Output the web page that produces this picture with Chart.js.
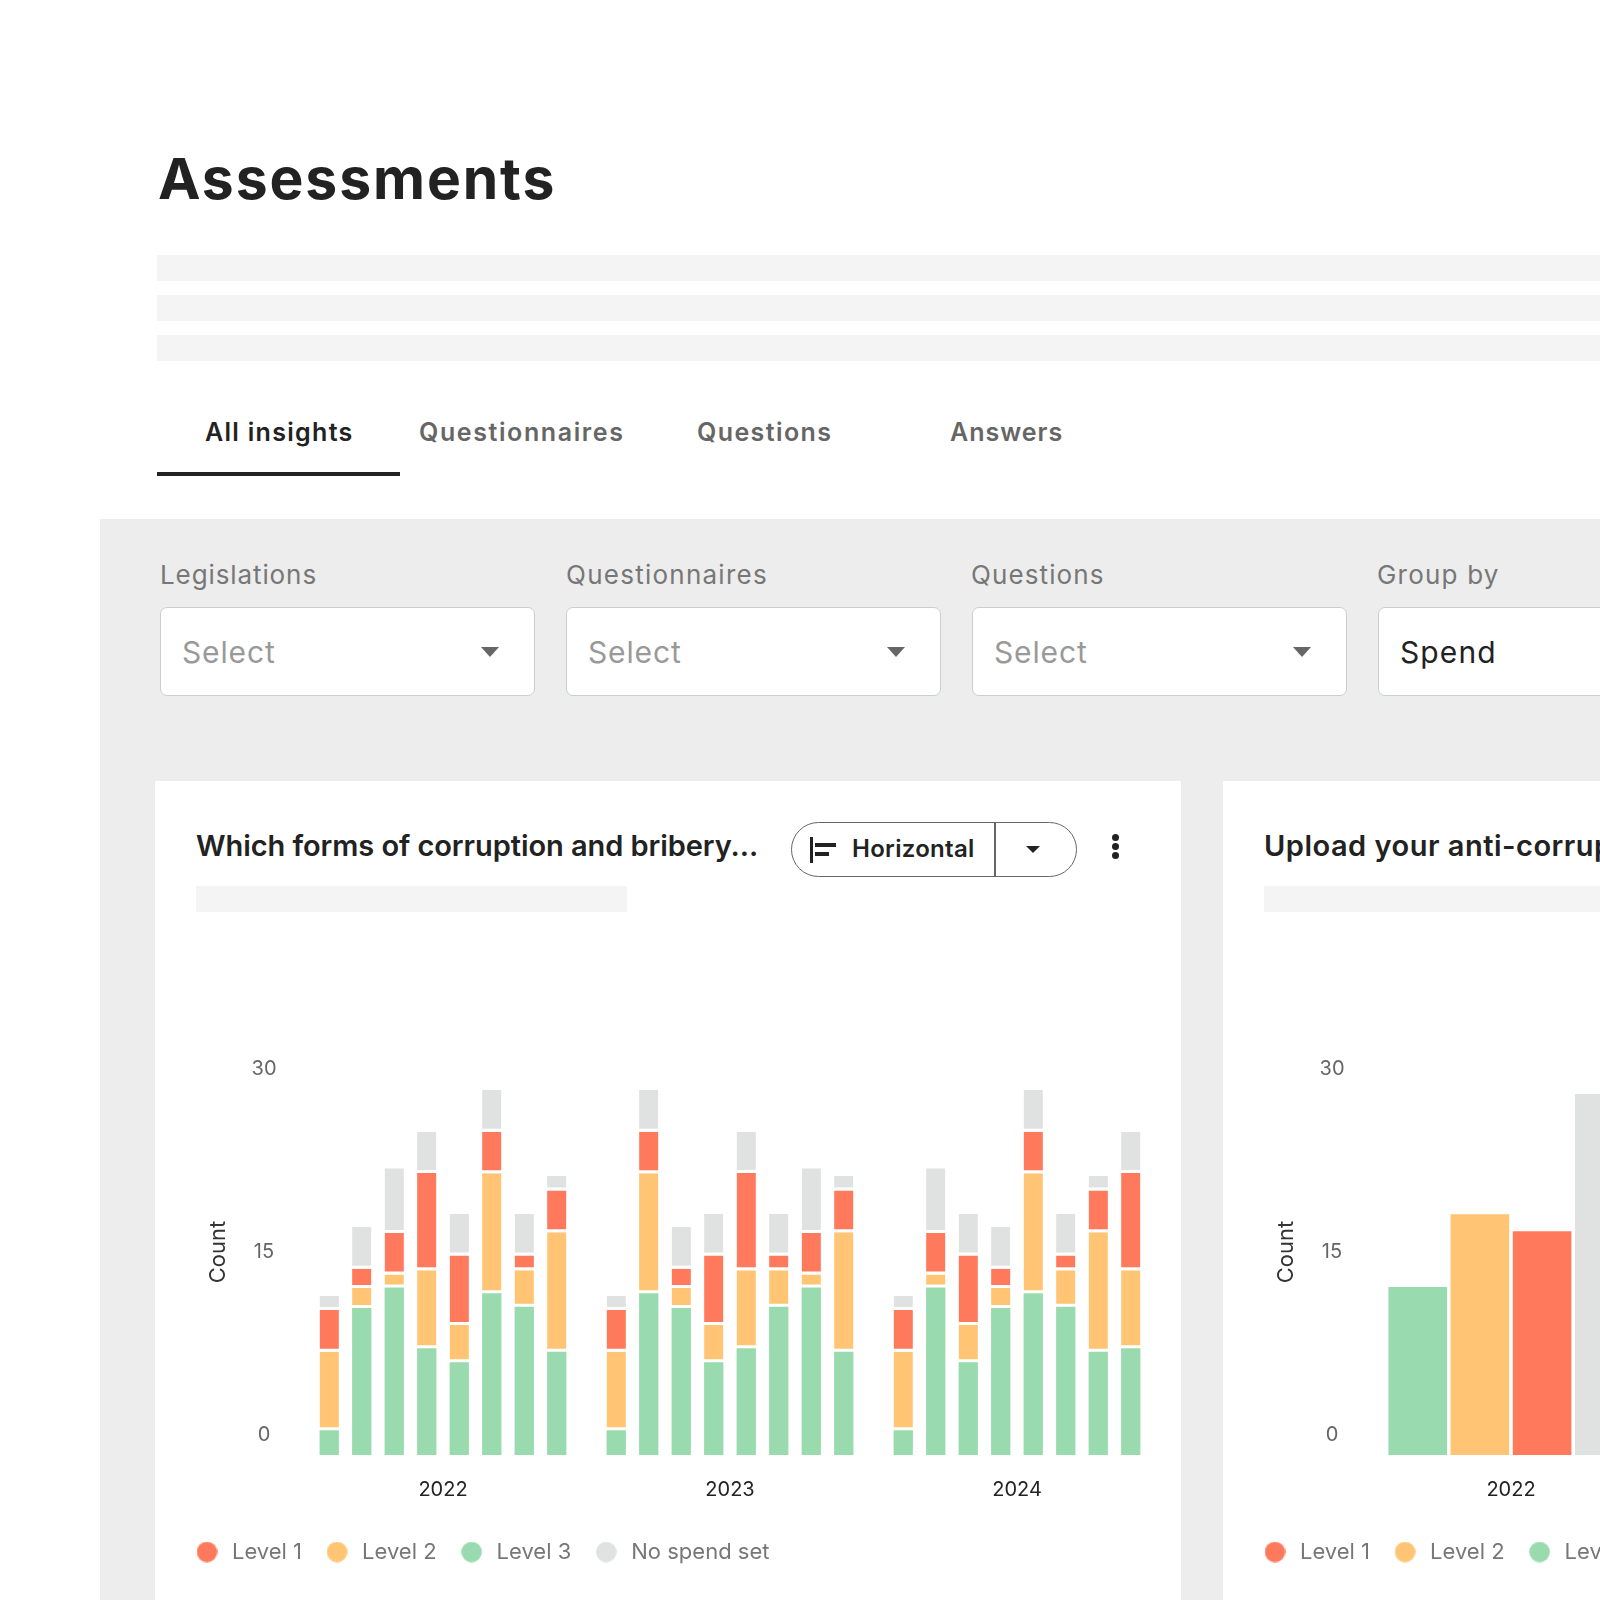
<!DOCTYPE html>
<html><head><meta charset="utf-8">
<script src="https://cdn.jsdelivr.net/npm/chart.js@4"></script>
<style>
html,body{margin:0;padding:0;width:1600px;height:1600px;overflow:hidden;background:#fff;font-family:Inter,sans-serif}
#page{position:absolute;left:0;top:0;width:1600px;height:1600px;overflow:hidden}
.b{position:absolute}
.t{position:absolute;white-space:nowrap;line-height:1}
.ph{position:absolute;background:#f4f4f4}
.tab{font-size:25px;font-weight:600;color:#666;top:420px}
.lab{font-size:26px;color:#777;top:562px}
.sel{position:absolute;top:607px;height:89px;background:#fff;border:1.5px solid #c8d0ce;border-radius:7px;box-sizing:border-box}
.st{font-size:30px;color:#999;top:637px;letter-spacing:.85px}
.tri{position:absolute;width:0;height:0;border-left:9.5px solid transparent;border-right:9.5px solid transparent;border-top:10px solid #666}
canvas{position:absolute;display:block}
</style></head><body><div id="page">
<div class="t" style="left:158px;top:150px;font-size:57px;font-weight:700;color:#222;letter-spacing:1.9px">Assessments</div>
<div class="ph" style="left:157px;top:255px;width:1443px;height:26px"></div>
<div class="ph" style="left:157px;top:295px;width:1443px;height:26px"></div>
<div class="ph" style="left:157px;top:335px;width:1443px;height:26px"></div>
<div class="t tab" style="left:205px;color:#222;letter-spacing:1.3px">All insights</div>
<div class="t tab" style="left:419px;letter-spacing:1.6px">Questionnaires</div>
<div class="t tab" style="left:697px;letter-spacing:1.4px">Questions</div>
<div class="t tab" style="left:950px;letter-spacing:1px">Answers</div>
<div class="b" style="left:157px;top:472px;width:243px;height:4px;background:#222"></div>
<div class="b" style="left:100px;top:519px;width:1500px;height:1081px;background:#ededed"></div>
<div class="t lab" style="left:160px;letter-spacing:.9px">Legislations</div>
<div class="t lab" style="left:566px;letter-spacing:1.25px">Questionnaires</div>
<div class="t lab" style="left:971px;letter-spacing:1.1px">Questions</div>
<div class="t lab" style="left:1377px;letter-spacing:1.2px">Group by</div>
<div class="sel" style="left:160px;width:375px"></div>
<div class="sel" style="left:566px;width:375px"></div>
<div class="sel" style="left:972px;width:375px"></div>
<div class="sel" style="left:1378px;width:300px"></div>
<div class="t st" style="left:182px">Select</div>
<div class="t st" style="left:588px">Select</div>
<div class="t st" style="left:994px">Select</div>
<div class="t st" style="left:1400px;color:#222;letter-spacing:1.1px">Spend</div>
<div class="tri" style="left:481px;top:647px"></div>
<div class="tri" style="left:887px;top:647px"></div>
<div class="tri" style="left:1293px;top:647px"></div>

<div class="b" style="left:155px;top:781px;width:1026px;height:819px;background:#fff"></div>
<div class="b" style="left:1223px;top:781px;width:400px;height:819px;background:#fff"></div>
<div class="t" style="left:196px;top:831px;font-size:29px;font-weight:600;color:#222;letter-spacing:-.07px">Which forms of corruption and bribery...</div>
<div class="b" style="left:791px;top:822px;width:286px;height:55px;border:1.5px solid #666;border-radius:28px;box-sizing:border-box"></div>
<div class="b" style="left:994px;top:822px;width:1.5px;height:55px;background:#666"></div>
<div class="b" style="left:810px;top:837px;width:2.5px;height:26px;background:#222"></div>
<div class="b" style="left:815px;top:843px;width:21px;height:4px;background:#222"></div>
<div class="b" style="left:815px;top:852px;width:14px;height:4px;background:#222"></div>
<div class="t" style="left:852px;top:837px;font-size:24px;font-weight:600;color:#222;letter-spacing:.3px">Horizontal</div>
<div class="tri" style="left:1026px;top:846px;border-left-width:7px;border-right-width:7px;border-top-width:7px;border-top-color:#222"></div>
<div class="b" style="left:1112px;top:834px;width:7px;height:7px;border-radius:50%;background:#222"></div>
<div class="b" style="left:1112px;top:843px;width:7px;height:7px;border-radius:50%;background:#222"></div>
<div class="b" style="left:1112px;top:851.5px;width:7px;height:7px;border-radius:50%;background:#222"></div>
<div class="ph" style="left:196px;top:886px;width:431px;height:26px"></div>
<div class="t" style="left:1264px;top:831px;font-size:29px;font-weight:600;color:#222;letter-spacing:.5px">Upload your anti-corruption policy</div>
<div class="ph" style="left:1264px;top:886px;width:336px;height:26px"></div>
<canvas id="c1"></canvas>
<canvas id="c2"></canvas>
</div>
<script>
const years = ['2022', '2023', '2024'];
const yTickValues = [0, 15, 30];
const levelNames = ['Level 1', 'Level 2', 'Level 3', 'No spend set'];
const levelColors = ['#ff795c', '#ffc574', '#99dbae', '#e0e2e1'];

// Chart 1: eight stacked bars per year (fill-top readings converted to segment counts)
const level3_2022 = [2.02, 12.06, 13.73, 8.75, 7.61, 13.26, 12.15, 8.46];
const level2_2022 = [6.44, 1.64, 1.08, 6.41, 3.05, 9.84, 3.01, 9.81];
const level1_2022 = [3.43, 1.58, 3.40, 7.97, 5.70, 3.42, 1.20, 3.42];
const noSpend_2022 = [1.17, 3.43, 5.30, 3.39, 3.43, 3.43, 3.43, 1.20];

const level3_2023 = [2.02, 13.26, 12.06, 7.61, 8.75, 12.15, 13.73, 8.46];
const level2_2023 = [6.44, 9.84, 1.64, 3.05, 6.41, 3.01, 1.08, 9.81];
const level1_2023 = [3.43, 3.42, 1.58, 5.70, 7.97, 1.20, 3.40, 3.42];
const noSpend_2023 = [1.17, 3.43, 3.43, 3.43, 3.39, 3.43, 5.30, 1.20];

const level3_2024 = [2.02, 13.73, 7.61, 12.06, 13.26, 12.15, 8.46, 8.75];
const level2_2024 = [6.44, 1.08, 3.05, 1.64, 9.84, 3.01, 9.81, 6.41];
const level1_2024 = [3.43, 3.40, 5.70, 1.58, 3.42, 1.20, 3.42, 7.97];
const noSpend_2024 = [1.17, 5.30, 3.43, 3.43, 3.43, 3.43, 1.20, 3.39];

// Chart 2: only the 2022 group is visible in the picture
const chart2Level3 = [13.77, null, null];
const chart2Level2 = [19.75, null, null];
const chart2Level1 = [18.36, null, null];
const chart2NoSpend = [29.6, null, null];

const byLevel = [
  [level1_2022, level1_2023, level1_2024],
  [level2_2022, level2_2023, level2_2024],
  [level3_2022, level3_2023, level3_2024],
  [noSpend_2022, noSpend_2023, noSpend_2024]
];
const stackOrder = [2, 1, 0, 3];
const FONT = 'Inter, sans-serif';

function dot(color) {
  const c = document.createElement('canvas');
  c.width = 21; c.height = 21;
  const x = c.getContext('2d');
  x.fillStyle = color; x.beginPath(); x.arc(10.5, 10.5, 10.3, 0, Math.PI * 2); x.fill();
  return c;
}
const dots = levelColors.map(dot);

function options(stacked, catPct, barPct) {
  return {
    responsive: false, animation: false, devicePixelRatio: 1,
    layout: { padding: { left: 17, right: 20.5, top: 8, bottom: 27 } },
    datasets: { bar: { categoryPercentage: catPct, barPercentage: barPct } },
    plugins: {
      title: { display: false }, tooltip: { enabled: false },
      legend: {
        position: 'bottom', align: 'start',
        labels: {
          usePointStyle: true, pointStyleWidth: 28, boxHeight: 20, padding: 21,
          color: '#777', font: { family: FONT, size: 22 },
          generateLabels: () => levelNames.map((n, i) => ({
            text: n, pointStyle: dots[i], fontColor: '#777', hidden: false, datasetIndex: null, lineWidth: 0
          }))
        }
      }
    },
    scales: {
      x: {
        stacked, labels: years,
        grid: { display: false }, border: { display: false },
        afterFit: s => { s.height = 65; },
        ticks: { color: '#222', padding: 14.5, font: { family: FONT, size: 20 }, maxRotation: 0 }
      },
      y: { stacked, display: false, min: 0, max: 33.3 },
      yLabels: {
        type: 'linear', position: 'left', min: -1.67, max: 31.63,
        grid: { display: false }, border: { display: false },
        afterBuildTicks: s => { s.ticks = yTickValues.map(v => ({ value: v })); },
        afterFit: s => { s.width = 127.5; },
        ticks: { color: '#666', padding: 15, crossAlign: 'center', font: { family: FONT, size: 20 }, autoSkip: false },
        title: { display: true, text: 'Count', color: '#333', font: { family: FONT, size: 22 }, padding: { top: 33.2, bottom: 0 } }
      }
    }
  };
}

function place(id, left, top, w, h) {
  const el = document.getElementById(id);
  el.width = w; el.height = h;
  el.style.left = left + 'px'; el.style.top = top + 'px';
  el.style.width = w + 'px'; el.style.height = h + 'px';
  return el;
}

const stacks = [0, 1, 2, 3, 4, 5, 6, 7];
const ds1 = [];
stacks.forEach(s => {
  stackOrder.forEach(l => {
    ds1.push({
      label: levelNames[l], stack: 's' + s,
      data: byLevel[l].map(yearArr => yearArr[s]),
      backgroundColor: levelColors[l],
      borderColor: '#fff',
      borderWidth: l === 2 ? 0 : { bottom: 3 },
      borderSkipped: false
    });
  });
});
new Chart(place('c1', 155, 1022, 1026, 578), {
  type: 'bar', data: { labels: years, datasets: ds1 },
  options: options(true, 0.906, 0.594)
});

const ds2 = [
  [chart2Level3, 2], [chart2Level2, 1], [chart2Level1, 0], [chart2NoSpend, 3]
].map(([d, l]) => ({ label: levelNames[l], data: d, backgroundColor: levelColors[l], borderWidth: 0 }));
new Chart(place('c2', 1223, 1022, 1026, 578), {
  type: 'bar', data: { labels: years, datasets: ds2 },
  options: options(false, 0.867, 0.942)
});
</script></body></html>
